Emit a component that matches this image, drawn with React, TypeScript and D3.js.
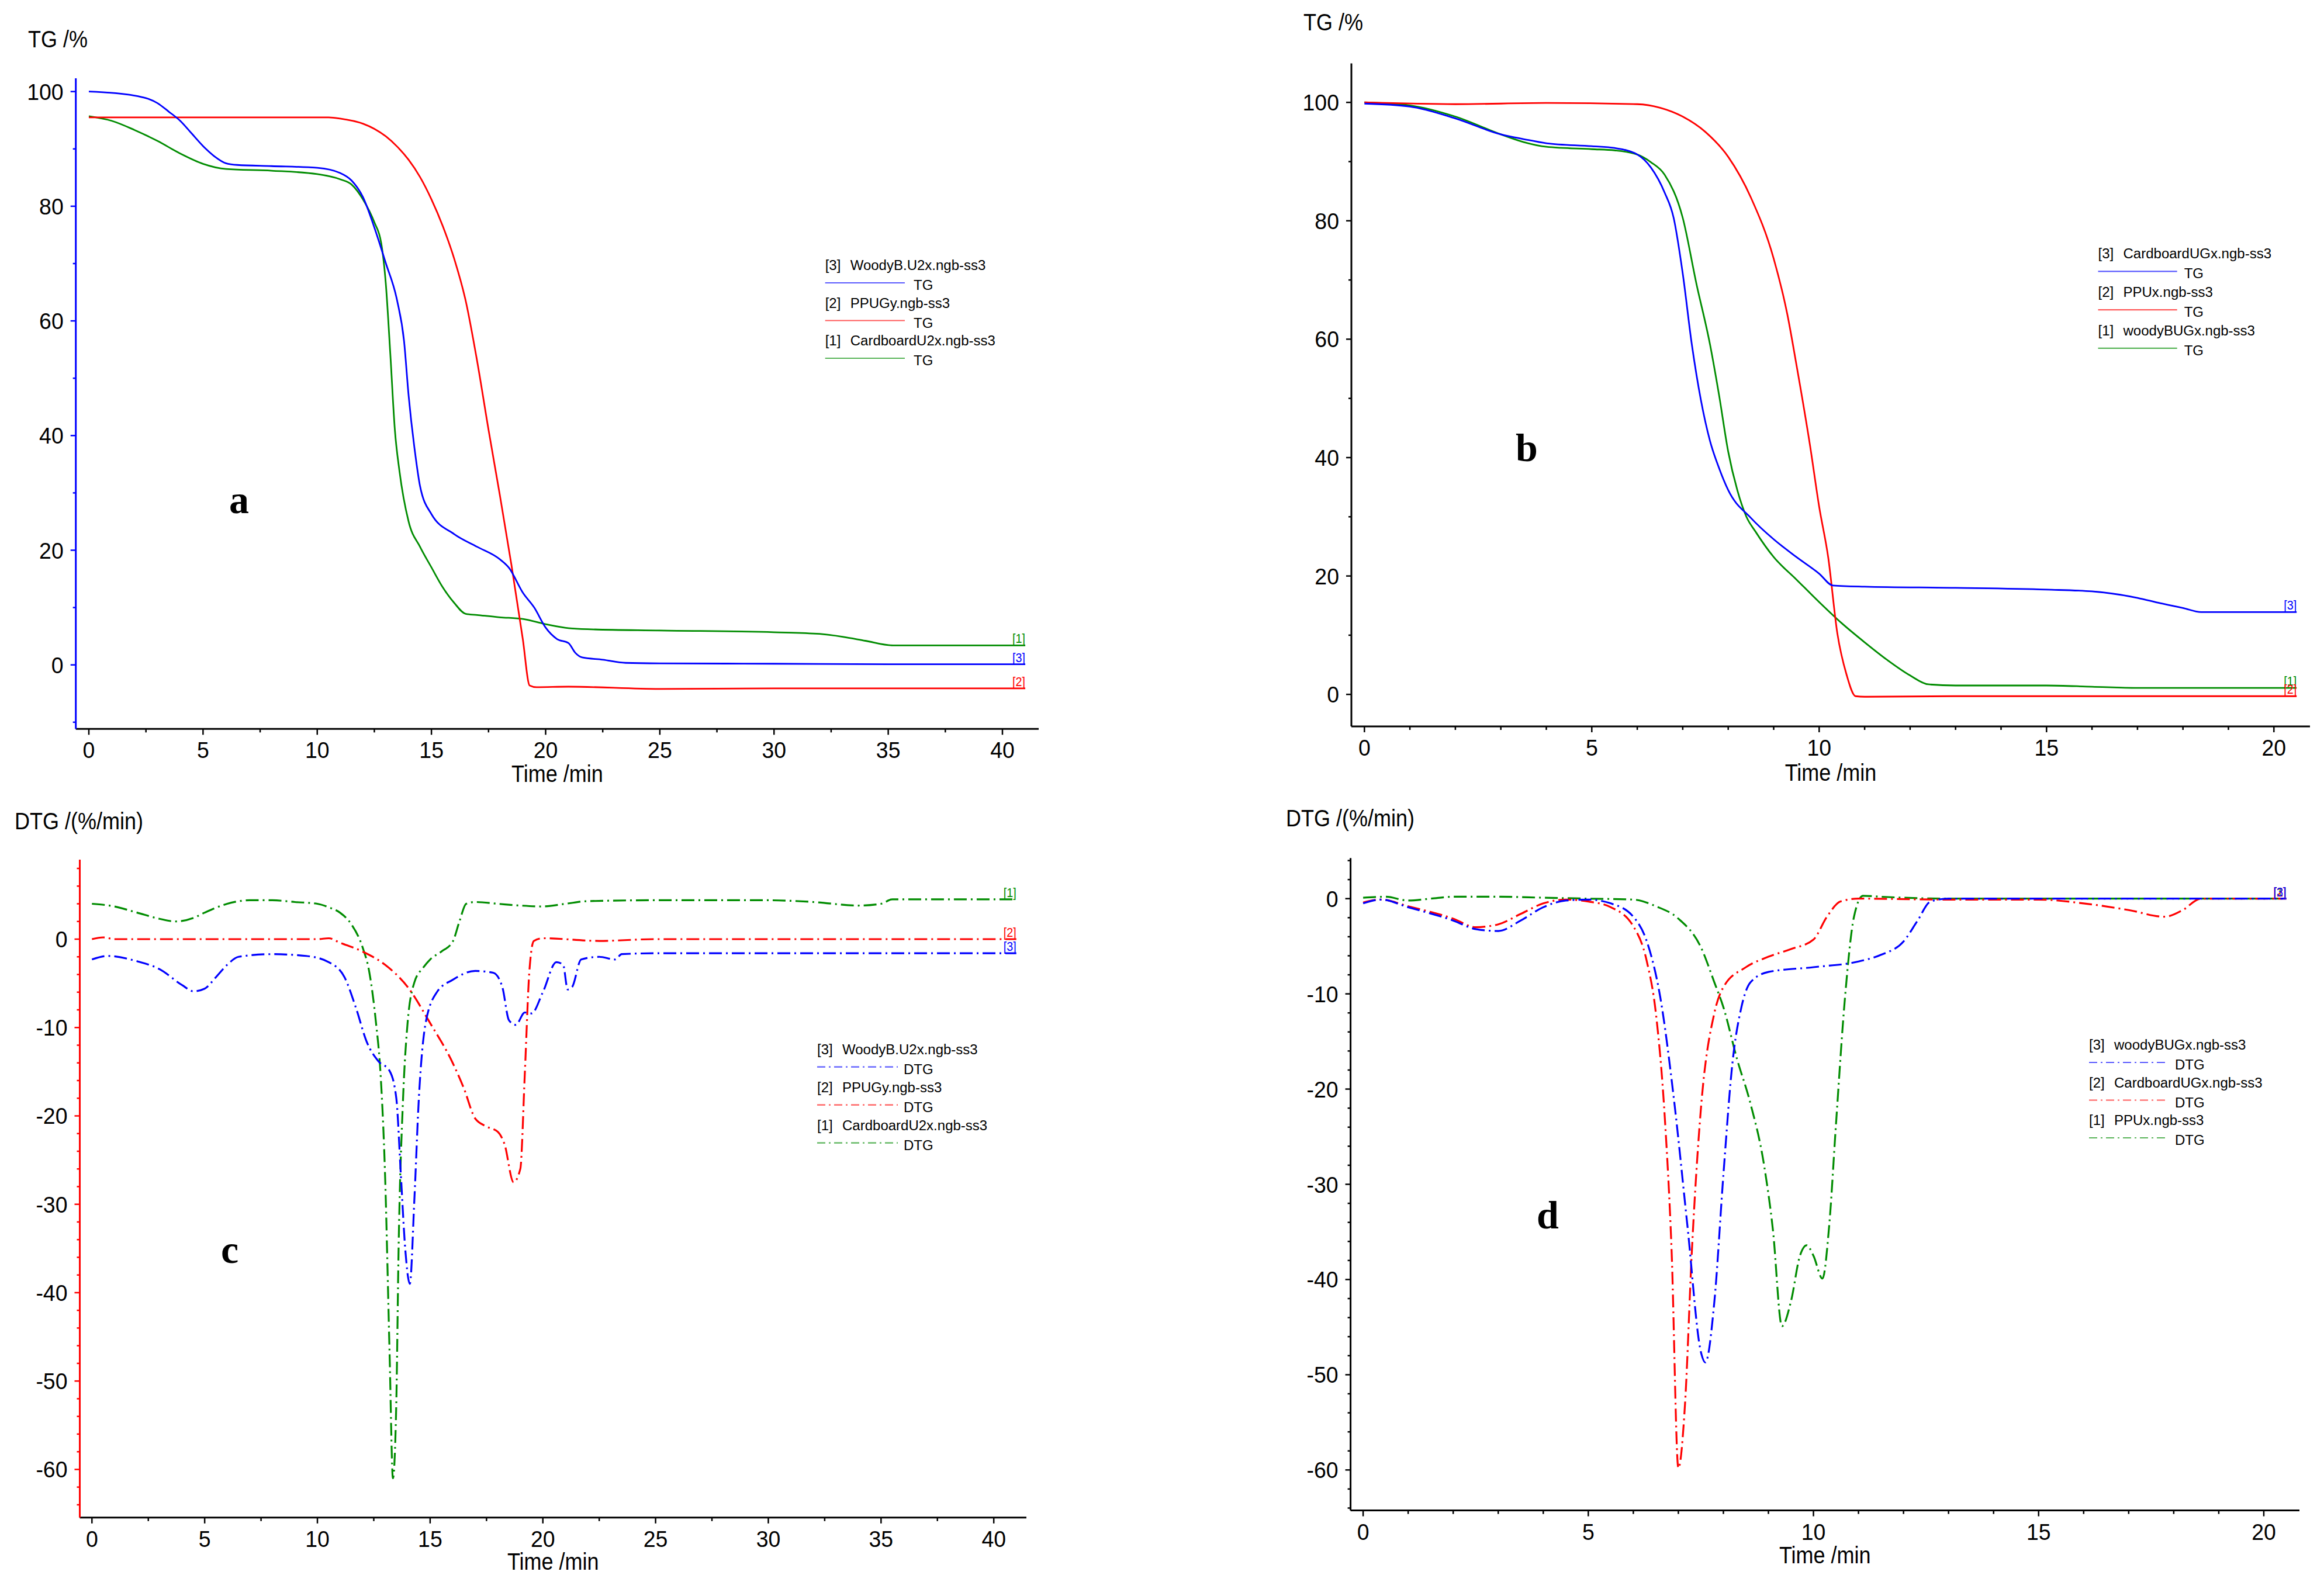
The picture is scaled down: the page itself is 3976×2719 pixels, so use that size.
import { useEffect, useRef } from 'react'
import * as d3 from 'd3'

type Pt = [number, number]

// ---- panel a : TG, first run (time min, mass %) ----
const aWoodyTG: Pt[] = [
  [0, 100], [2, 99.3], [3, 98], [3.5, 96.5], [4, 94.9], [4.5, 92.7], [5, 90.5], [5.5, 88.7],
  [6, 87.5], [6.5, 87.2], [8, 87], [10, 86.7], [11, 85.8], [11.5, 84.5], [12, 81.6], [12.5, 76.3],
  [13, 70.1], [13.5, 63.5], [13.8, 56.5], [14, 47], [14.3, 36.5], [14.5, 31.2], [15, 26.3], [16, 22.8],
  [17, 20.6], [18, 18.4], [18.4, 16.9], [19, 12.6], [19.5, 10], [20, 6.5], [20.5, 4.5], [21, 3.8],
  [21.3, 2.1], [21.6, 1.3], [22.5, 0.9], [23.5, 0.35], [25, 0.26], [30, 0.2], [35, 0.1], [41, 0.1],
]
const aPPUTG: Pt[] = [
  [0, 95.5], [10.5, 95.5], [11, 95.3], [12, 94.4], [12.5, 93.5], [13, 92.2], [13.5, 90.4],
  [14, 88.1], [14.5, 85.1], [15, 81.2], [15.5, 76.5], [16, 70.8], [16.5, 63.5], [17, 53],
  [17.5, 41], [18, 29.5], [18.5, 17.5], [19, 4.5], [19.3, -3.6], [19.6, -3.9], [21, -3.8],
  [25, -4.2], [30, -4.1], [41, -4.1],
]
const aCardTG: Pt[] = [
  [0, 95.7], [1, 94.9], [2, 93.3], [3, 91.4], [4, 89.2], [5, 87.4], [6, 86.5], [8, 86.2], [10, 85.6],
  [11, 84.7], [11.5, 83.8], [12, 81.2], [12.5, 77.2], [12.8, 73.6], [13, 66.6], [13.2, 54.2],
  [13.4, 40.9], [13.6, 33.8], [14, 25], [14.5, 20.6], [15, 17], [15.5, 13.5], [16, 10.8], [16.5, 8.9],
  [17, 8.7], [18, 8.3], [19, 8], [20, 7.1], [21, 6.4], [22, 6.2], [25, 6], [30, 5.7], [32, 5.4],
  [33, 4.9], [34, 4.2], [35.2, 3.4], [41, 3.4],
]
const aNames = ['WoodyB.U2x.ngb-ss3', 'PPUGy.ngb-ss3', 'CardboardU2x.ngb-ss3']

// ---- panel b : TG, second run ----
const bCardTG: Pt[] = [
  [0, 99.8], [1, 99.3], [2, 97.3], [3, 94.6], [3.5, 93.8], [4, 93.1], [5, 92.6], [5.5, 92.3],
  [6, 91.2], [6.3, 89], [6.6, 84.8], [6.8, 80.5], [7, 71.1], [7.2, 59.1], [7.4, 49.7], [7.6, 42.8],
  [7.8, 38.2], [8, 34.5], [8.5, 29.8], [9, 26.2], [9.5, 23.2], [10, 20.4], [10.3, 18.4], [11, 18.2],
  [13, 18], [15, 17.7], [16, 17.4], [17, 16.3], [17.5, 15.4], [18, 14.6], [18.4, 13.9], [20.5, 13.9],
]
const bPPUTG: Pt[] = [
  [0, 100], [2, 99.7], [4, 99.9], [6, 99.7], [6.5, 99.1], [7, 97.6], [7.5, 95], [8, 90.8],
  [8.5, 83.9], [9, 73.6], [9.3, 64.2], [9.5, 55.7], [9.8, 42], [10, 31.7], [10.2, 23.1], [10.4, 10.3],
  [10.6, 3.4], [10.8, -0.3], [11, -0.4], [13, -0.3], [20.5, -0.3],
]
const bWoodyTG: Pt[] = [
  [0, 100], [1, 99.5], [2, 97.6], [3, 94.6], [3.5, 93.3], [4, 92.5], [5, 92.1], [5.5, 91.9],
  [6, 91.2], [6.3, 89.9], [6.6, 87.8], [7, 80.5], [7.3, 69.4], [7.6, 59.1], [7.8, 50.5], [8, 41],
  [8.2, 34.5], [8.4, 30], [8.6, 27.5], [9, 23.2], [9.5, 19.4], [10, 15.6], [10.5, 12], [11, 8.8],
  [11.5, 5.8], [12, 3.2], [12.4, 1.7], [13, 1.5], [15, 1.5], [16, 1.3], [17, 1.1], [20.5, 1.1],
]
const bNames = ['CardboardUGx.ngb-ss3', 'PPUx.ngb-ss3', 'woodyBUGx.ngb-ss3']

// ---- panel c : DTG, first run (%/min) ----
const cWoodyDTG: Pt[] = [
  [0, -2.3], [0.7, -1.9], [2, -2.5], [3, -3.4], [4, -5.2], [4.5, -5.9], [5, -5.6], [5.5, -4.3],
  [6, -2.9], [6.5, -2], [8, -1.7], [9.5, -1.9], [10.5, -2.6], [11.2, -4.3], [11.7, -7.7], [12.2, -11.7],
  [12.7, -13.8], [13.2, -14.9], [13.5, -18], [13.7, -26.6], [13.9, -35.2], [14.1, -39], [14.3, -29.5],
  [14.5, -18], [14.8, -9.5], [15.3, -6], [16, -4.6], [17, -3.6], [17.8, -3.8], [18.2, -5.4],
  [18.5, -9.2], [18.8, -9.7], [19.2, -8.3], [19.5, -8.4], [20, -6], [20.6, -2.6], [20.9, -2.9],
  [21.1, -5.7], [21.3, -5.4], [21.7, -2.3], [22.5, -2], [23.2, -2.3], [23.5, -1.7], [25, -1.6],
  [41, -1.6],
]
const cPPUDTG: Pt[] = [
  [0, 0], [0.5, 0.2], [1, 0], [5, 0], [10, 0], [10.5, 0.1], [11, -0.4], [12, -1.4], [13, -2.9],
  [14, -5.4], [15, -9.5], [16, -14], [16.5, -16.9], [17, -20.3], [17.5, -21.2], [18, -21.8],
  [18.3, -23.2], [18.7, -27.5], [19, -26], [19.2, -15.2], [19.4, -3.7], [19.6, -0.2], [20, 0.1],
  [22.5, -0.2], [25, 0], [41, 0],
]
const cCardDTG: Pt[] = [
  [0, 4], [1, 3.7], [2, 3], [3, 2.3], [3.7, 2], [4.5, 2.4], [5, 3], [6, 4], [7, 4.4], [8, 4.4],
  [9, 4.2], [10, 4], [10.5, 3.6], [11, 3], [11.5, 1.7], [12, -0.9], [12.3, -3.7], [12.6, -9.5],
  [12.8, -15.2], [13, -26.6], [13.2, -46.7], [13.35, -61], [13.5, -52.4], [13.6, -35.2], [13.8, -18],
  [14, -9.5], [14.3, -4.9], [14.7, -3.2], [15, -2.3], [15.5, -1.4], [16, -0.3], [16.3, 2], [16.6, 4],
  [17, 4.2], [18, 4], [19, 3.8], [20, 3.7], [21, 4], [22, 4.3], [25, 4.4], [30, 4.4], [32, 4.2],
  [34, 3.8], [35, 4], [35.5, 4.5], [38, 4.5], [41, 4.5],
]

// ---- panel d : DTG, second run ----
const dWoodyDTG: Pt[] = [
  [0, -0.5], [0.4, -0.1], [1, -0.9], [2, -2.3], [2.5, -3.2], [3, -3.4], [3.5, -2.3], [4, -0.9],
  [4.5, -0.2], [5, -0.1], [5.5, -0.5], [6, -1.9], [6.3, -4.5], [6.6, -10.4], [6.9, -21], [7.2, -34.3],
  [7.5, -47.6], [7.6, -48.7], [7.8, -42.3], [8, -29], [8.2, -17.3], [8.4, -11.4], [8.6, -8.8],
  [9, -7.7], [10, -7.2], [11, -6.6], [11.5, -5.9], [12, -4.5], [12.3, -2.4], [12.6, -0.3], [13, 0],
  [20.5, 0],
]
const dCardDTG: Pt[] = [
  [0, -0.4], [0.4, -0.1], [1, -0.8], [2, -2.1], [2.5, -3], [3, -2.7], [3.5, -1.6], [4, -0.5],
  [4.5, -0.1], [5, -0.3], [5.5, -0.9], [6, -2.9], [6.3, -6.6], [6.5, -12], [6.7, -23.1], [6.85, -37],
  [7, -59.8], [7.15, -52.9], [7.3, -37], [7.5, -22.1], [7.8, -12], [8, -9.3], [8.5, -7.2], [9, -6.1],
  [9.5, -5.3], [10, -4.3], [10.3, -1.9], [10.6, -0.3], [11, 0], [13, -0.1], [15, -0.1], [16, -0.5],
  [17, -1.2], [17.8, -1.9], [18.2, -1.2], [18.6, 0], [20.5, 0],
]
const dPPUDTG: Pt[] = [
  [0, 0.1], [0.5, 0.2], [1, -0.2], [1.5, 0], [2, 0.2], [3, 0.2], [4, 0.1], [5, 0], [6, -0.1],
  [6.5, -0.8], [7, -2.1], [7.5, -5.1], [7.8, -8.8], [8, -11.4], [8.3, -16.8], [8.6, -21.5],
  [8.9, -27.9], [9.1, -34.8], [9.3, -44.9], [9.5, -42.3], [9.7, -37.5], [9.85, -36.4], [10, -37.5],
  [10.2, -39.9], [10.35, -34.3], [10.5, -23.7], [10.7, -10.4], [10.9, -1.9], [11.1, 0.3], [11.5, 0.2],
  [13, 0], [20.5, 0],
]
const dNames = ['woodyBUGx.ngb-ss3', 'CardboardUGx.ngb-ss3', 'PPUx.ngb-ss3']

const tgTicks = [0, 20, 40, 60, 80, 100]
const dtgTicks = [-60, -50, -40, -30, -20, -10, 0]
const timeTicks40 = [0, 5, 10, 15, 20, 25, 30, 35, 40]
const timeTicks20 = [0, 5, 10, 15, 20]

const BLUE = '#0000ff'
const RED = '#ff0000'
const GREEN = '#008c00'
const SANS = '"Liberation Sans", Arial, sans-serif'

interface Panel {
  xDomain: [number, number]
  xRange: [number, number]
  yDomain: [number, number]
  yRange: [number, number]
  left: number
  top: number
  bottom: number
  right: number
  yColor: string
  yTicks: number[]
  yMinor: number[]
  xTicks: number[]
  xMinor: number[]
  yTitle: string
  yTitleAt: [number, number]
  xTitleY: number
  letter: string
  letterAt: [number, number]
  legend: { x: number; y: number; step: number; lineEnd: number; subX: number }
  sub: string
  dash: string | null
  series: { tag: string; name: string; data: Pt[]; color: string }[]
}

const panels: Panel[] = [
  {
    xDomain: [0, 40], xRange: [152, 1715], yDomain: [0, 100], yRange: [1137.7, 156.7],
    left: 129.7, top: 134, bottom: 1247.3, right: 1777, yColor: BLUE,
    yTicks: tgTicks, yMinor: d3.range(-10, 101, 10), xTicks: timeTicks40, xMinor: d3.range(0, 41, 2.5),
    yTitle: 'TG /%', yTitleAt: [48, 81], xTitleY: 1338, letter: 'a', letterAt: [392, 878],
    legend: { x: 1411.7, y: 462, step: 64.5, lineEnd: 1548, subX: 1563 }, sub: 'TG', dash: null,
    series: [
      { tag: '[3]', name: aNames[0], data: aWoodyTG, color: BLUE },
      { tag: '[2]', name: aNames[1], data: aPPUTG, color: RED },
      { tag: '[1]', name: aNames[2], data: aCardTG, color: GREEN },
    ],
  },
  {
    xDomain: [0, 20], xRange: [2334.3, 3890.3], yDomain: [0, 100], yRange: [1188.2, 175.2],
    left: 2312, top: 108.4, bottom: 1243, right: 3952, yColor: '#000',
    yTicks: tgTicks, yMinor: d3.range(0, 101, 10), xTicks: timeTicks20, xMinor: d3.range(0, 21, 1),
    yTitle: 'TG /%', yTitleAt: [2230, 52], xTitleY: 1336, letter: 'b', letterAt: [2593, 789],
    legend: { x: 3589.5, y: 442.3, step: 65.8, lineEnd: 3724.7, subX: 3736.7 }, sub: 'TG', dash: null,
    series: [
      { tag: '[3]', name: bNames[0], data: bCardTG, color: BLUE },
      { tag: '[2]', name: bNames[1], data: bPPUTG, color: RED },
      { tag: '[1]', name: bNames[2], data: bWoodyTG, color: GREEN },
    ],
  },
  {
    xDomain: [0, 40], xRange: [157.3, 1700.2], yDomain: [0, -60], yRange: [1607, 2514.4],
    left: 136.5, top: 1471, bottom: 2596.8, right: 1756, yColor: RED,
    yTicks: dtgTicks, yMinor: d3.range(-64, 9, 2), xTicks: timeTicks40, xMinor: d3.range(0, 41, 2.5),
    yTitle: 'DTG /(%/min)', yTitleAt: [25, 1419], xTitleY: 2686, letter: 'c', letterAt: [378, 2161],
    legend: { x: 1398, y: 1803.7, step: 65, lineEnd: 1536, subX: 1546 }, sub: 'DTG', dash: '22,7,3,7',
    series: [
      { tag: '[3]', name: aNames[0], data: cWoodyDTG, color: BLUE },
      { tag: '[2]', name: aNames[1], data: cPPUDTG, color: RED },
      { tag: '[1]', name: aNames[2], data: cCardDTG, color: GREEN },
    ],
  },
  {
    xDomain: [0, 20], xRange: [2332.1, 3873], yDomain: [0, -60], yRange: [1537.7, 2515.3],
    left: 2310.6, top: 1468.3, bottom: 2584.6, right: 3934, yColor: '#000',
    yTicks: dtgTicks, yMinor: d3.range(-64, 5, 2), xTicks: timeTicks20, xMinor: d3.range(0, 21, 1),
    yTitle: 'DTG /(%/min)', yTitleAt: [2200, 1414], xTitleY: 2675, letter: 'd', letterAt: [2629, 2102],
    legend: { x: 3574, y: 1796, step: 64.5, lineEnd: 3709, subX: 3721 }, sub: 'DTG', dash: '22,7,3,7',
    series: [
      { tag: '[3]', name: dNames[0], data: dWoodyDTG, color: BLUE },
      { tag: '[2]', name: dNames[1], data: dCardDTG, color: RED },
      { tag: '[1]', name: dNames[2], data: dPPUDTG, color: GREEN },
    ],
  },
]

type G = d3.Selection<SVGGElement, unknown, null, undefined>

function label(g: G, x: number, y: number, str: string, size: number, anchor = 'start', sx = 0.93, fill = '#000') {
  g.append('text')
    .attr('transform', `translate(${x},${y}) scale(${sx},1)`)
    .attr('text-anchor', anchor)
    .attr('font-family', SANS)
    .attr('font-size', size)
    .attr('fill', fill)
    .text(str)
}

function drawPanel(g: G, p: Panel) {
  const x = d3.scaleLinear().domain(p.xDomain).range(p.xRange)
  const y = d3.scaleLinear().domain(p.yDomain).range(p.yRange)

  // curves
  const line = d3
    .line<Pt>()
    .x((d) => x(d[0]))
    .y((d) => y(d[1]))
    .curve(d3.curveMonotoneX)

  p.series
    .slice()
    .reverse()
    .forEach((s) => {
      g.append('path')
        .attr('d', line(s.data))
        .attr('fill', 'none')
        .attr('stroke', s.color)
        .attr('stroke-width', p.dash ? 3.2 : 2.8)
        .attr('stroke-dasharray', p.dash)
        .attr('stroke-linejoin', 'round')
    })

  // end tags
  p.series
    .slice()
    .reverse()
    .forEach((s) => {
      const last = s.data[s.data.length - 1]
      label(g, x(last[0]), y(last[1]) - 4, s.tag, 22, 'end', 0.9, s.color)
    })

  // x axis
  g.append('line')
    .attr('x1', p.left).attr('x2', p.right)
    .attr('y1', p.bottom).attr('y2', p.bottom)
    .attr('stroke', '#000').attr('stroke-width', 3)
  p.xMinor.filter((v) => !p.xTicks.includes(v)).forEach((v) => {
    g.append('line').attr('x1', x(v)).attr('x2', x(v))
      .attr('y1', p.bottom).attr('y2', p.bottom + 6)
      .attr('stroke', '#000').attr('stroke-width', 2.5)
  })
  p.xTicks.forEach((v) => {
    g.append('line').attr('x1', x(v)).attr('x2', x(v))
      .attr('y1', p.bottom).attr('y2', p.bottom + 10)
      .attr('stroke', '#000').attr('stroke-width', 2.5)
    label(g, x(v), p.bottom + 50, String(v), 39, 'middle', 0.96)
  })
  label(g, (p.left + p.right) / 2, p.xTitleY, 'Time /min', 40, 'middle', 0.9)

  // y axis
  g.append('line')
    .attr('x1', p.left).attr('x2', p.left)
    .attr('y1', p.top).attr('y2', p.bottom)
    .attr('stroke', p.yColor).attr('stroke-width', 3)
  p.yMinor.filter((v) => !p.yTicks.includes(v)).forEach((v) => {
    g.append('line').attr('x1', p.left - 5).attr('x2', p.left)
      .attr('y1', y(v)).attr('y2', y(v))
      .attr('stroke', p.yColor).attr('stroke-width', 2.5)
  })
  p.yTicks.forEach((v) => {
    g.append('line').attr('x1', p.left - 9).attr('x2', p.left)
      .attr('y1', y(v)).attr('y2', y(v))
      .attr('stroke', p.yColor).attr('stroke-width', 2.5)
    label(g, p.left - 21, y(v) + 14, String(v), 39, 'end', 0.96)
  })
  label(g, p.yTitleAt[0], p.yTitleAt[1], p.yTitle, 40, 'start', 0.9)

  // panel letter
  g.append('text')
    .attr('x', p.letterAt[0])
    .attr('y', p.letterAt[1])
    .attr('font-family', '"Liberation Serif", "Times New Roman", serif')
    .attr('font-weight', 'bold')
    .attr('font-size', 68)
    .text(p.letter)

  // legend
  const L = p.legend
  p.series.forEach((s, i) => {
    const y0 = L.y + i * L.step
    label(g, L.x, y0, s.tag, 24.5, 'start', 0.98)
    label(g, L.x + 43, y0, s.name, 24.5, 'start', 0.98)
    g.append('line')
      .attr('x1', L.x).attr('x2', L.lineEnd)
      .attr('y1', y0 + 22).attr('y2', y0 + 22)
      .attr('stroke', s.color).attr('stroke-opacity', 0.65)
      .attr('stroke-width', 2.2)
      .attr('stroke-dasharray', p.dash ? '14,6,3,6' : null)
    label(g, L.subX, y0 + 34, p.sub, 24.5, 'start', 0.98)
  })
}

export default function App() {
  const svgRef = useRef<SVGSVGElement>(null)

  useEffect(() => {
    if (!svgRef.current) return
    const svg = d3.select(svgRef.current)
    svg.selectAll('*').remove()
    svg.append('rect').attr('width', 3976).attr('height', 2719).attr('fill', '#fff')
    panels.forEach((p) => drawPanel(svg.append('g'), p))
  }, [])

  return (
    <svg
      ref={svgRef}
      width={3976}
      height={2719}
      style={{ position: 'absolute', left: 0, top: 0, display: 'block' }}
    />
  )
}
